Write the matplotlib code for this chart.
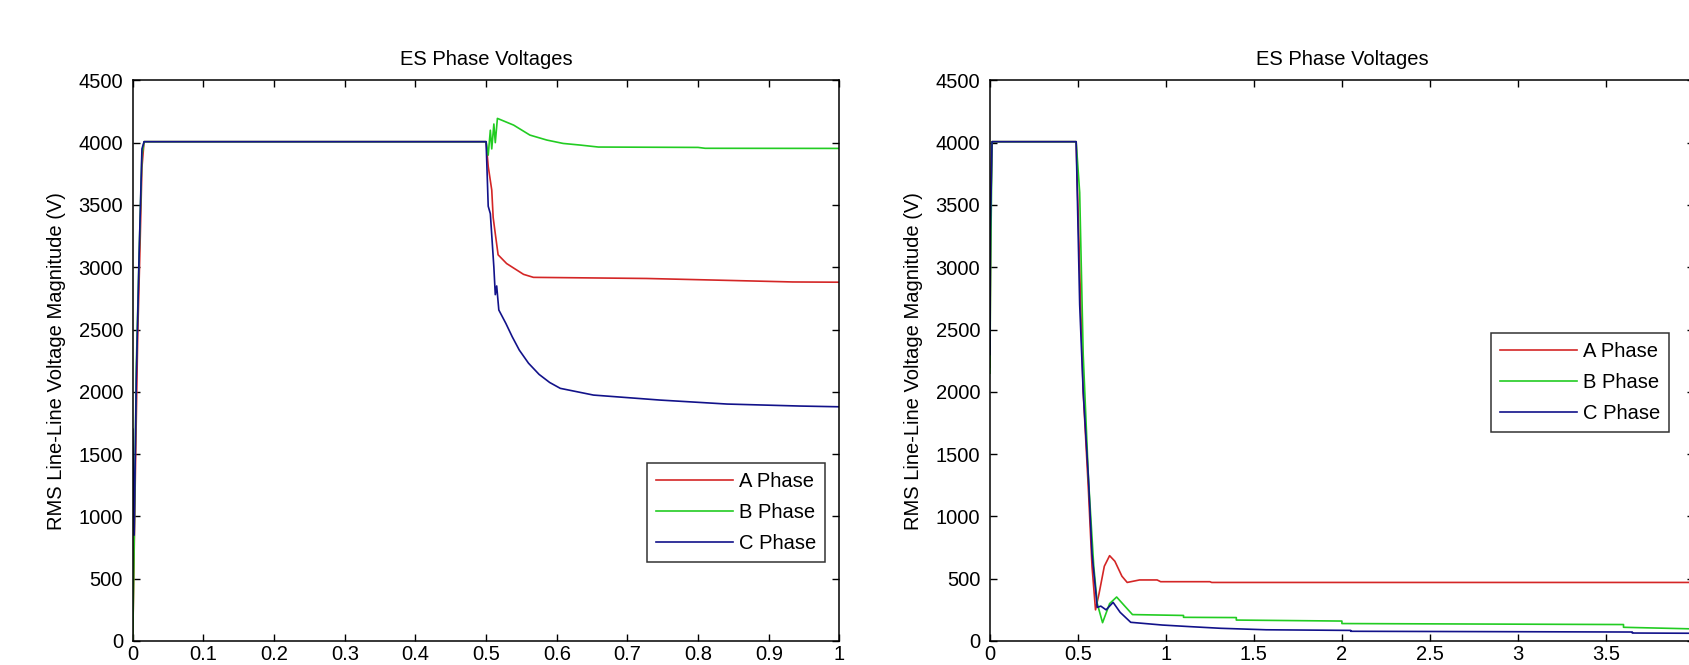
import matplotlib
matplotlib.use("Agg")
import matplotlib.pyplot as plt
from matplotlib.ticker import FuncFormatter, MultipleLocator

plt.rcParams['font.family'] = ['Liberation Sans', 'DejaVu Sans']

# left panel: time (s) and RMS voltages (V)
t_a_left = [0, 0.004, 0.007, 0.010, 0.013, 0.016, 0.500, 0.503, 0.508, 0.510, 0.513, 0.517,
            0.529, 0.540, 0.553, 0.567, 0.727, 0.817, 0.934, 1.0]
v_a_left = [0, 1450, 2450, 3100, 3800, 4008, 4008, 3810, 3620, 3400, 3270, 3100,
            3030, 2990, 2943, 2919, 2910, 2898, 2882, 2880]

t_b_left = [0, 0.002, 0.005, 0.009, 0.013, 0.016, 0.500, 0.503, 0.506, 0.508, 0.511, 0.513,
            0.516, 0.539, 0.562, 0.586, 0.609, 0.633, 0.659, 0.800, 0.810, 1.0]
v_b_left = [0, 800, 2200, 3100, 3900, 4008, 4008, 3900, 4100, 3950, 4150, 4000,
            4195, 4141, 4061, 4021, 3994, 3981, 3965, 3962, 3955, 3954]

t_c_left = [0, 0.002, 0.005, 0.009, 0.013, 0.016, 0.500, 0.503, 0.506, 0.511, 0.513, 0.515,
            0.518, 0.528, 0.537, 0.547, 0.560, 0.575, 0.590, 0.605, 0.652, 0.746, 0.841,
            0.944, 1.0]
v_c_left = [1700, 850, 2100, 3100, 3950, 4008, 4008, 3490, 3430, 3000, 2780, 2850,
            2657, 2549, 2442, 2335, 2230, 2140, 2075, 2028, 1974, 1934, 1902,
            1886, 1880]

# right panel
t_a_right = [0, 0.005, 0.012, 0.49, 0.51, 0.53, 0.56, 0.58, 0.60, 0.62, 0.65, 0.68, 0.71,
             0.75, 0.78, 0.85, 0.95, 0.97, 1.25, 1.26, 4.0]
v_a_right = [2200, 3500, 4008, 4008, 3000, 2000, 1200, 600, 250, 380, 600, 685, 640,
             520, 470, 490, 490, 476, 476, 470, 470]

t_b_right = [0, 0.004, 0.012, 0.49, 0.51, 0.53, 0.56, 0.59, 0.61, 0.64, 0.68, 0.72, 0.76,
             0.81, 1.10, 1.10, 1.40, 1.40, 2.00, 2.00, 3.60, 3.60, 4.0]
v_b_right = [2150, 3000, 4008, 4008, 3600, 2300, 1300, 600, 300, 147, 300, 353, 290,
             212, 205, 190, 188, 168, 160, 140, 132, 110, 97]

t_c_right = [0, 0.003, 0.012, 0.49, 0.51, 0.53, 0.56, 0.58, 0.61, 0.63, 0.66, 0.70, 0.74,
             0.80, 0.98, 1.14, 1.31, 1.57, 2.05, 2.05, 3.65, 3.65, 4.0]
v_c_right = [2300, 3300, 4008, 4008, 2700, 2000, 1300, 700, 270, 280, 250, 310, 230,
             150, 128, 115, 102, 90, 85, 78, 72, 64, 62]

phase_labels = ['A Phase', 'B Phase', 'C Phase']
phase_colors = ['#d42626', '#22cc22', '#12128a']

fig = plt.figure(figsize=(16.89, 6.65), dpi=100)
ax1 = fig.add_axes([0.0786, 0.0361, 0.4184, 0.843])
ax2 = fig.add_axes([0.5861, 0.0361, 0.4168, 0.843])

fs = 14.5
fmt = FuncFormatter(lambda v, p: f"{v:g}")


def style_axes(ax, xmax, xstep):
    ax.set_xlim(0, xmax)
    ax.set_ylim(0, 4500)
    ax.xaxis.set_major_locator(MultipleLocator(xstep))
    ax.yaxis.set_major_locator(MultipleLocator(500))
    ax.xaxis.set_major_formatter(fmt)
    ax.tick_params(direction='in', top=True, right=True, length=5, width=1,
                   labelsize=fs)
    ax.tick_params(axis='y', pad=7)
    ax.tick_params(axis='x', pad=3)
    for s in ax.spines.values():
        s.set_linewidth(1.1)
    ax.set_title('ES Phase Voltages', fontsize=fs, pad=11)
    ax.set_ylabel('RMS Line-Line Voltage Magnitude (V)', fontsize=fs, labelpad=9)


left_series = [(t_a_left, v_a_left), (t_b_left, v_b_left), (t_c_left, v_c_left)]
right_series = [(t_a_right, v_a_right), (t_b_right, v_b_right), (t_c_right, v_c_right)]

for (t, v), lab, col in zip(left_series, phase_labels, phase_colors):
    ax1.plot(t, v, color=col, lw=1.2, label=lab)
for (t, v), lab, col in zip(right_series, phase_labels, phase_colors):
    ax2.plot(t, v, color=col, lw=1.2, label=lab)

style_axes(ax1, 1, 0.1)
style_axes(ax2, 4, 0.5)

leg_kw = dict(loc='lower right', fontsize=fs, frameon=True, fancybox=False,
              edgecolor='black', borderaxespad=0, handlelength=3.8,
              handletextpad=0.3, labelspacing=0.6, borderpad=0.45)
leg1 = ax1.legend(bbox_to_anchor=(0.980, 0.141), **leg_kw)
leg2 = ax2.legend(bbox_to_anchor=(0.9645, 0.373), **leg_kw)
for leg in (leg1, leg2):
    leg.get_frame().set_linewidth(1.1)

fig.savefig('out.png', dpi=100)
